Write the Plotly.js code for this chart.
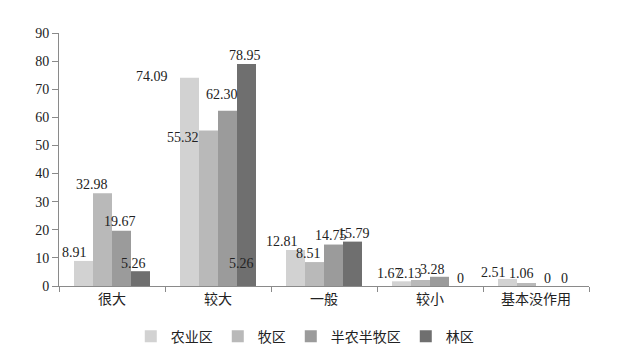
<!DOCTYPE html>
<html>
<head>
<meta charset="utf-8">
<script src="https://cdn.plot.ly/plotly-3.0.1.min.js"></script>
<style>html,body{margin:0;padding:0;background:#fff;}#chart{width:622px;height:355px;}</style>
</head>
<body>
<div id="chart"></div>
<script>
// ---- data ----
var categories = ['很大', '较大', '一般', '较小', '基本没作用'];
var seriesNames = ['农业区', '牧区', '半农半牧区', '林区'];
var agri     = [8.91, 74.09, 12.81, 1.67, 2.51];
var pasture  = [32.98, 55.32, 8.51, 2.13, 1.06];
var semi     = [19.67, 62.30, 14.75, 3.28, 0];
var forest   = [5.26, 78.95, 15.79, 0, 0];
var labelsAgri    = ['8.91', '74.09', '12.81', '1.67', '2.51'];
var labelsPasture = ['32.98', '55.32', '8.51', '2.13', '1.06'];
var labelsSemi    = ['19.67', '62.30', '14.75', '3.28', '0'];
var labelsForest  = ['5.26', '78.95', '15.79', '0', '0'];
var yTicks = [0, 10, 20, 30, 40, 50, 60, 70, 80, 90];
// stray label in the reference (林区 bar of 较大, drawn near its base)
var strayLabel = {category: '较大', series: 3, value: 5.26, text: '5.26'};

// ---- styling ----
var colors = ['#d2d2d2', '#b9b9b9', '#9b9b9b', '#6f6f6f'];
var serif = 'Liberation Serif, Times New Roman, Noto Sans CJK SC, serif';
var barPx = 19;
// per-label pixel nudges [dx, dy], by series then category
var nudges = [
  [[-9.5, 8], [-37.5, 1], [-14, 8], [-12.5, 8], [-14.5, 6]],
  [[-10.5, 9], [-25.5, -7.5], [-6, 9], [-11.5, 7], [-5.5, 10]],
  [[-1.5, 9], [-5.5, 16], [-3, 9.5], [-7.5, 7], [1.5, 8]],
  [[-7.5, 8], [-1.5, 9], [1, 8], [1.5, 8], [-0.5, 8]]
];

var values = [agri, pasture, semi, forest];
var labels = [labelsAgri, labelsPasture, labelsSemi, labelsForest];

var traces = values.map(function (v, i) {
  return {
    type: 'bar', name: seriesNames[i], x: categories, y: v,
    marker: {color: colors[i]}, hoverinfo: 'none'
  };
});

var annotations = [];
values.forEach(function (v, i) {
  v.forEach(function (val, j) {
    annotations.push({
      xref: 'x', yref: 'y', x: categories[j], y: val,
      text: labels[i][j], showarrow: false,
      xanchor: 'center', yanchor: 'middle',
      xshift: (i - 1.5) * barPx + nudges[i][j][0],
      yshift: nudges[i][j][1],
      font: {family: serif, size: 14, color: '#222'}
    });
  });
});
annotations.push({
  xref: 'x', yref: 'y', x: strayLabel.category, y: strayLabel.value,
  text: strayLabel.text, showarrow: false, xanchor: 'center', yanchor: 'middle',
  xshift: (strayLabel.series - 1.5) * barPx - 5.5, yshift: 8,
  font: {family: serif, size: 14, color: '#222'}
});

var layout = {
  width: 622, height: 355,
  margin: {l: 59, r: 33, t: 33, b: 69},
  paper_bgcolor: '#fff', plot_bgcolor: '#fff',
  barmode: 'group', bargap: 0.283, bargroupgap: 0,
  showlegend: true,
  legend: {
    orientation: 'h', xref: 'container', x: 0.49, xanchor: 'center',
    yref: 'container', y: 0.052, yanchor: 'middle',
    font: {family: serif, size: 14, color: '#222'},
    itemwidth: 30, traceorder: 'normal'
  },
  xaxis: {
    type: 'category', showline: true, linecolor: '#8a8a8a', linewidth: 1,
    ticks: 'outside', tickson: 'boundaries', ticklen: 5, tickcolor: '#8a8a8a',
    showgrid: false, zeroline: false, automargin: false,
    tickfont: {family: serif, size: 14, color: '#222'}
  },
  yaxis: {
    range: [0, 90], tickvals: yTicks, ticktext: yTicks.map(String),
    showline: true, linecolor: '#8a8a8a', linewidth: 1,
    ticks: 'outside', ticklen: 6, tickcolor: '#8a8a8a',
    showgrid: false, zeroline: false, automargin: false,
    tickfont: {family: serif, size: 14, color: '#222'}
  },
  annotations: annotations
};

Plotly.newPlot('chart', traces, layout, {displayModeBar: false, staticPlot: true});
</script>
</body>
</html>
